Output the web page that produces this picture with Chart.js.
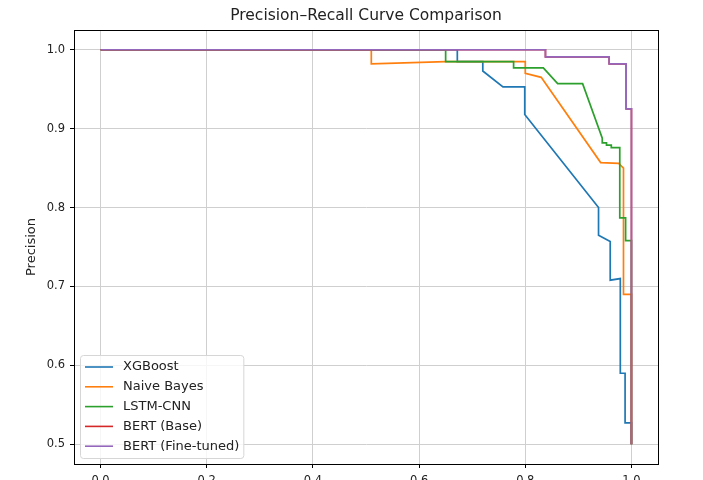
<!DOCTYPE html>
<html lang="en">
<head>
<meta charset="UTF-8">
<title>Precision-Recall Curve Comparison</title>
<style>
    html, body {
        margin: 0;
        padding: 0;
        background: white;
        overflow: hidden;
    }
    #wrap {
        width: 703px;
        height: 500px;
    }
</style>
<script src="https://cdn.jsdelivr.net/npm/chart.js@4.4.1/dist/chart.umd.min.js"></script>
</head>
<body>
<div id="wrap"><canvas id="prChart" width="703" height="500"></canvas></div>
<script>
    // values (recall, precision)
    const xgbRecall = [0, 0.672, 0.672, 0.72, 0.72, 0.758, 0.799, 0.799, 0.938, 0.938, 0.96, 0.96, 0.979, 0.979, 0.988, 0.988, 1.0, 1.0];
    const xgbPrecision = [1.0, 1.0, 0.985, 0.985, 0.973, 0.953, 0.953, 0.918, 0.8, 0.765, 0.757, 0.708, 0.71, 0.59, 0.59, 0.527, 0.527, 0.5];

    const nbRecall = [0, 0.51, 0.51, 0.65, 0.80, 0.80, 0.83, 0.942, 0.976, 0.985, 0.985, 1.0, 1.0];
    const nbPrecision = [1.0, 1.0, 0.982, 0.985, 0.985, 0.970, 0.965, 0.857, 0.856, 0.85, 0.69, 0.69, 0.5];

    const lstmRecall = [0, 0.65, 0.65, 0.778, 0.778, 0.834, 0.861, 0.908, 0.945, 0.945, 0.953, 0.953, 0.962, 0.962, 0.978, 0.978, 0.989, 0.989, 1.0, 1.0];
    const lstmPrecision = [1.0, 1.0, 0.985, 0.985, 0.977, 0.977, 0.957, 0.957, 0.888, 0.882, 0.882, 0.879, 0.879, 0.876, 0.876, 0.787, 0.787, 0.758, 0.758, 0.5];

    const bertBaseRecall = [0, 0.838, 0.838, 0.958, 0.958, 0.99, 0.99, 1.0, 1.0];
    const bertBasePrecision = [1.0, 1.0, 0.991, 0.991, 0.982, 0.982, 0.925, 0.925, 0.5];

    const bertFtRecall = [0, 0.838, 0.838, 0.958, 0.958, 0.99, 0.99, 1.0, 1.0];
    const bertFtPrecision = [1.0, 1.0, 0.991, 0.991, 0.982, 0.982, 0.925, 0.925, 0.5];

    const modelNames = ['XGBoost', 'Naive Bayes', 'LSTM-CNN', 'BERT (Base)', 'BERT (Fine-tuned)'];
    const modelColors = ['#1f77b4', '#ff7f0e', '#2ca02c', '#d62728', '#9467bd'];

    const xTicks = [0.0, 0.2, 0.4, 0.6, 0.8, 1.0];
    const yTicks = [0.5, 0.6, 0.7, 0.8, 0.9, 1.0];

    const chartTitle = 'Precision\u2013Recall Curve Comparison';
    const yTitle = 'Precision';

    function pairs(xs, ys) {
        return xs.map((x, i) => ({ x: x, y: ys[i] }));
    }

    const curves = [
        pairs(xgbRecall, xgbPrecision),
        pairs(nbRecall, nbPrecision),
        pairs(lstmRecall, lstmPrecision),
        pairs(bertBaseRecall, bertBasePrecision),
        pairs(bertFtRecall, bertFtPrecision)
    ];

    const FONT = "'DejaVu Sans', sans-serif";

    // frame, title and a matplotlib style legend inside the axes
    const axesExtras = {
        id: 'axesExtras',
        afterDatasetsDraw(chart) {
            const ctx = chart.ctx;
            const a = chart.chartArea;
            ctx.save();

            ctx.strokeStyle = '#000';
            ctx.lineWidth = 1;
            ctx.strokeRect(Math.round(a.left) + 0.5, Math.round(a.top) + 0.5,
                Math.round(a.right - a.left), Math.round(a.bottom - a.top));

            ctx.fillStyle = '#222';
            ctx.font = '15.5px ' + FONT;
            ctx.textAlign = 'center';
            ctx.textBaseline = 'middle';
            ctx.fillText(chartTitle, (a.left + a.right) / 2, 16);

            const sets = chart.data.datasets;
            ctx.font = '13px ' + FONT;
            let maxW = 0;
            sets.forEach(ds => { maxW = Math.max(maxW, ctx.measureText(ds.label).width); });
            const rowH = 19.8;
            const x0 = a.left + 6;
            const h = 103;
            const y0 = a.bottom - 6 - h;
            const textX = x0 + 43;
            const w = textX - x0 + maxW + 4;

            ctx.fillStyle = 'rgba(255,255,255,0.8)';
            ctx.strokeStyle = '#d6d6d6';
            ctx.beginPath();
            ctx.roundRect(x0 + 0.5, y0 + 0.5, w, h, 3);
            ctx.fill();
            ctx.stroke();

            ctx.textAlign = 'left';
            sets.forEach((ds, i) => {
                const cy = y0 + 12 + i * rowH;
                ctx.strokeStyle = ds.borderColor;
                ctx.lineWidth = 1.6;
                ctx.beginPath();
                ctx.moveTo(x0 + 5, cy);
                ctx.lineTo(x0 + 33, cy);
                ctx.stroke();
                ctx.fillStyle = '#222';
                ctx.fillText(ds.label, textX, cy);
            });
            ctx.restore();
        }
    };

    window.onload = function() {
        const ctx = document.getElementById('prChart').getContext('2d');
        new Chart(ctx, {
            type: 'line',
            data: {
                datasets: curves.map((pts, i) => ({
                    label: modelNames[i],
                    data: pts,
                    borderColor: modelColors[i],
                    backgroundColor: modelColors[i],
                    borderWidth: 1.7,
                    pointRadius: 0,
                    fill: false,
                    tension: 0,
                    order: curves.length - i
                }))
            },
            options: {
                responsive: false,
                animation: false,
                layout: {
                    padding: { top: 30, right: 45, left: 0, bottom: 0 }
                },
                scales: {
                    x: {
                        type: 'linear',
                        min: -0.05,
                        max: 1.05,
                        afterBuildTicks: scale => { scale.ticks = xTicks.map(v => ({ value: v })); },
                        afterFit: scale => { scale.height = 36; },
                        ticks: {
                            padding: 6,
                            color: '#222',
                            font: { family: FONT, size: 11.5 },
                            maxRotation: 0,
                            callback: v => v.toFixed(1)
                        },
                        grid: {
                            color: '#cfcfcf',
                            lineWidth: 1,
                            tickLength: 4,
                            tickColor: '#000'
                        },
                        border: { display: true, color: '#000', width: 1 }
                    },
                    y: {
                        type: 'linear',
                        min: 0.475,
                        max: 1.025,
                        afterBuildTicks: scale => { scale.ticks = yTicks.map(v => ({ value: v })); },
                        afterFit: scale => { scale.width = 74; },
                        title: {
                            display: true,
                            text: yTitle,
                            color: '#222',
                            font: { family: FONT, size: 13 },
                            padding: { top: 24, bottom: 0 }
                        },
                        ticks: {
                            padding: 5,
                            color: '#222',
                            font: { family: FONT, size: 11.5 },
                            callback: v => v.toFixed(1)
                        },
                        grid: {
                            color: '#cfcfcf',
                            lineWidth: 1,
                            tickLength: 4,
                            tickColor: '#000'
                        },
                        border: { display: true, color: '#000', width: 1 }
                    }
                },
                plugins: {
                    legend: { display: false },
                    title: { display: false },
                    tooltip: { enabled: false }
                }
            },
            plugins: [axesExtras]
        });
    };
</script>
</body>
</html>
